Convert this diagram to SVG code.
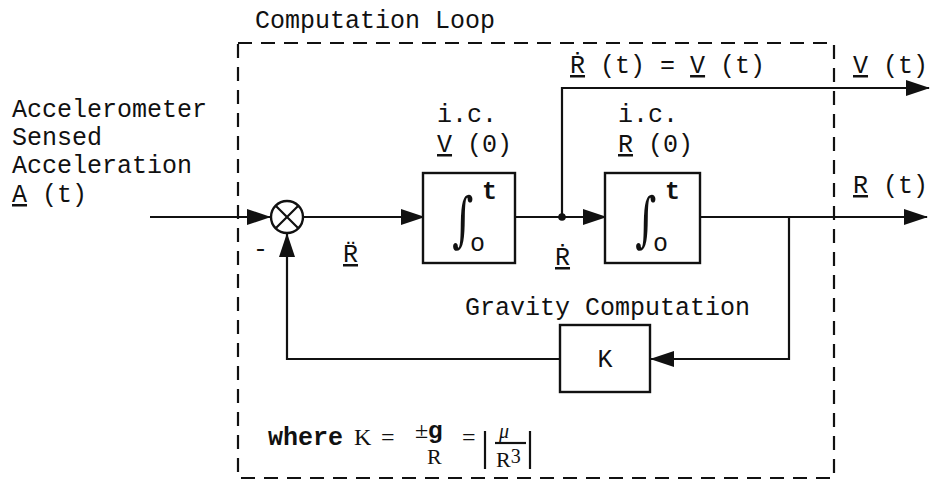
<svg xmlns="http://www.w3.org/2000/svg" width="933" height="481" viewBox="0 0 933 481">
<style>
.t{font-family:"Liberation Mono","Courier New",monospace;font-size:25px;fill:#111}
.s{font-family:"Liberation Serif","Times New Roman",serif;fill:#111}
.ln{fill:none;stroke:#111;stroke-width:2.2}
.box{fill:#fff;stroke:#111;stroke-width:2.4}
.dash{fill:none;stroke:#111;stroke-width:2.2;stroke-dasharray:14 9}
.int{font-family:"DejaVu Serif",serif;font-size:48px;fill:#111}
</style>
<defs>
<marker id="ah" markerUnits="userSpaceOnUse" markerWidth="24" markerHeight="18" viewBox="0 0 24 18" refX="23" refY="9" orient="auto">
<path d="M0,1 L24,9 L0,17 Z" fill="#111"/>
</marker>
</defs>
<rect x="238" y="43" width="596" height="435" class="dash"/>
<text class="t" x="255" y="28">Computation Loop</text>
<g id="input-label">
<text class="t" x="12" y="117">Accelerometer</text>
<text class="t" x="12" y="145">Sensed</text>
<text class="t" x="12" y="173">Acceleration</text>
<text class="t" x="12" y="202"><tspan text-decoration="underline">A</tspan> (t)</text>
</g>
<g id="connectors">
<path class="ln" d="M150,217 H270" marker-end="url(#ah)"/>
<path class="ln" d="M303,217 H424" marker-end="url(#ah)"/>
<path class="ln" d="M515,217 H606" marker-end="url(#ah)"/>
<path class="ln" d="M562,217 V88 H929" marker-end="url(#ah)"/>
<path class="ln" d="M700,217 H927" marker-end="url(#ah)"/>
<path class="ln" d="M789,217 V359 H651" marker-end="url(#ah)"/>
<path class="ln" d="M560,359 H287 V234" marker-end="url(#ah)"/>
<circle cx="562" cy="217" r="3.8" fill="#111"/>
</g>
<g id="sum">
<circle cx="287" cy="217" r="16" class="box"/>
<path class="ln" d="M275.7,205.7 L298.3,228.3 M298.3,205.7 L275.7,228.3"/>
<text class="t" x="253" y="257">-</text>
</g>
<text class="t" x="343" y="262"><tspan text-decoration="underline">R̈</tspan></text>
<g id="integrator1">
<text class="t" x="437" y="122">i.c.</text>
<text class="t" x="437" y="152"><tspan text-decoration="underline">V</tspan> (0)</text>
<rect x="423" y="173" width="92" height="90" class="box"/>
<text class="int" x="452" y="240" transform="translate(452 240) scale(0.85 1.25) translate(-452 -240)">∫</text>
<text class="t" x="482" y="199" font-weight="bold" font-size="22">t</text>
<text class="t" x="470" y="251" font-size="18">o</text>
</g>
<text class="t" x="555" y="265"><tspan text-decoration="underline">Ṙ</tspan></text>
<g id="integrator2">
<text class="t" x="618" y="122">i.c.</text>
<text class="t" x="618" y="152"><tspan text-decoration="underline">R</tspan> (0)</text>
<rect x="605" y="173" width="95" height="90" class="box"/>
<text class="int" x="635" y="240" transform="translate(635 240) scale(0.85 1.25) translate(-635 -240)">∫</text>
<text class="t" x="665" y="199" font-weight="bold" font-size="22">t</text>
<text class="t" x="653" y="251" font-size="18">o</text>
</g>
<text class="t" x="570" y="73"><tspan text-decoration="underline">Ṙ</tspan> (t) = <tspan text-decoration="underline">V</tspan> (t)</text>
<text class="t" x="853" y="73"><tspan text-decoration="underline">V</tspan> (t)</text>
<text class="t" x="853" y="193"><tspan text-decoration="underline">R</tspan> (t)</text>
<g id="gravity">
<text class="t" x="465" y="315">Gravity Computation</text>
<rect x="560" y="325" width="90" height="67" class="box"/>
<text class="t" x="605" y="367" text-anchor="middle">K</text>
</g>
<g id="formula">
<text class="t" x="268" y="445" font-weight="bold" font-size="24">where</text>
<text class="s" x="354" y="445" font-size="24">K</text>
<text class="s" x="381" y="445" font-size="24">=</text>
<text class="s" x="415" y="438" font-size="24">±<tspan font-weight="bold" font-family="Liberation Sans,sans-serif">g</tspan></text>
<text class="s" x="427" y="464" font-size="22">R</text>
<text class="s" x="462" y="445" font-size="24">=</text>
<line x1="485" y1="431" x2="485" y2="469" class="ln"/>
<text class="s" x="499" y="438" font-size="20" font-style="italic">μ</text>
<line x1="495" y1="443" x2="526" y2="443" class="ln" stroke-width="1.5"/>
<text class="s" x="496" y="467" font-size="22">R<tspan font-size="20" dy="-4">3</tspan></text>
<line x1="530" y1="431" x2="530" y2="469" class="ln"/>
</g>
</svg>
